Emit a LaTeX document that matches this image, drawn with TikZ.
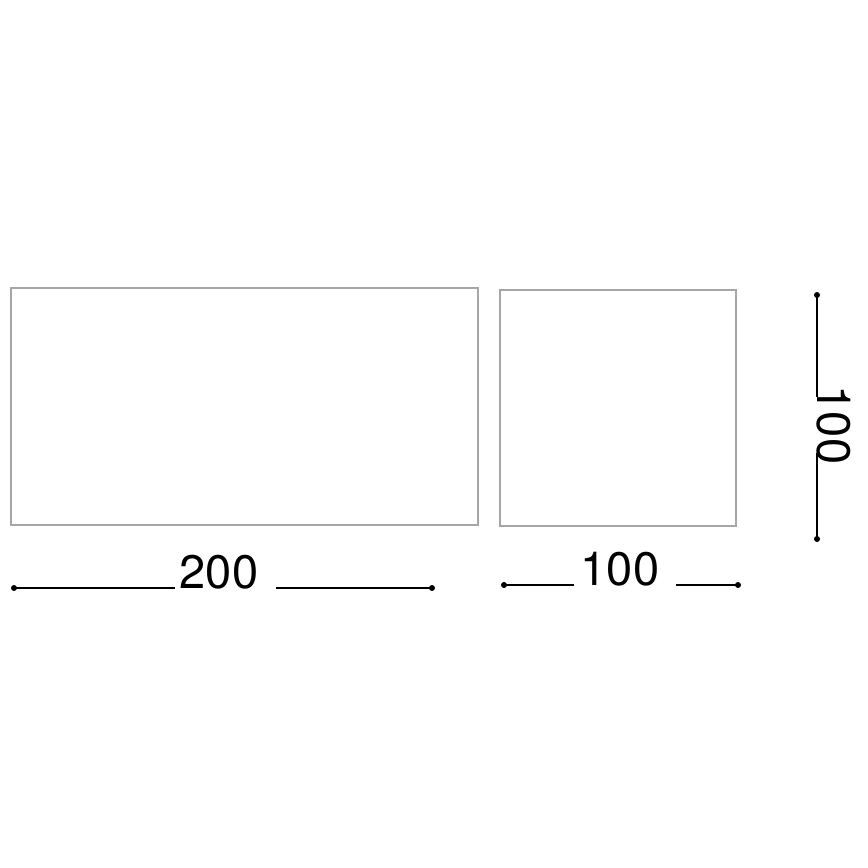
\documentclass[tikz,border=0pt]{standalone}
\usepackage{fontspec}
\setmainfont{TeX Gyre Heros}
\usepackage{tikz}

\begin{document}
\begin{tikzpicture}[x=0.5pt,y=-0.5pt]
\useasboundingbox (0,0) rectangle (868,868);

% outlines
\coordinate (bigul) at (11,288);
\coordinate (biglr) at (478,525);
\coordinate (smallul) at (500,290);
\coordinate (smalllr) at (736,526);

% dimension end points
\coordinate (wa) at (14,588);
\coordinate (wb) at (175,588);
\coordinate (wc) at (276,588);
\coordinate (wd) at (432,588);
\coordinate (da) at (504,585);
\coordinate (db) at (574,585);
\coordinate (dc) at (676,585);
\coordinate (dd) at (738,585);
\coordinate (ha) at (817,295);
\coordinate (hb) at (817,397);
\coordinate (hc) at (817,453);
\coordinate (hd) at (817,539);

% big box
\draw[gray!70,line width=0.8pt] (bigul) rectangle (biglr);
% small box
\draw[gray!70,line width=0.8pt] (smallul) rectangle (smalllr);

% width of big box
\node[anchor=base,inner sep=0pt,font=\fontsize{23.5}{23.5}\selectfont] (w) at (219,588) {200};
\draw[black,line width=0.6pt] (wa) -- (wb);
\draw[black,line width=0.6pt] (wc) -- (wd);
\fill (wa) circle (1.5pt);
\fill (wd) circle (1.5pt);

% width of small box
\node[anchor=base,inner sep=0pt,font=\fontsize{23.5}{23.5}\selectfont] (d) at (620,585) {100};
\draw[black,line width=0.6pt] (da) -- (db);
\draw[black,line width=0.6pt] (dc) -- (dd);
\fill (da) circle (1.5pt);
\fill (dd) circle (1.5pt);

% height
\node[anchor=base,rotate=-90,inner sep=0pt,font=\fontsize{23.5}{23.5}\selectfont] (h) at (817,425) {100};
\draw[black,line width=0.6pt] (ha) -- (hb);
\draw[black,line width=0.6pt] (hc) -- (hd);
\fill (ha) circle (1.5pt);
\fill (hd) circle (1.5pt);

\end{tikzpicture}
\end{document}
